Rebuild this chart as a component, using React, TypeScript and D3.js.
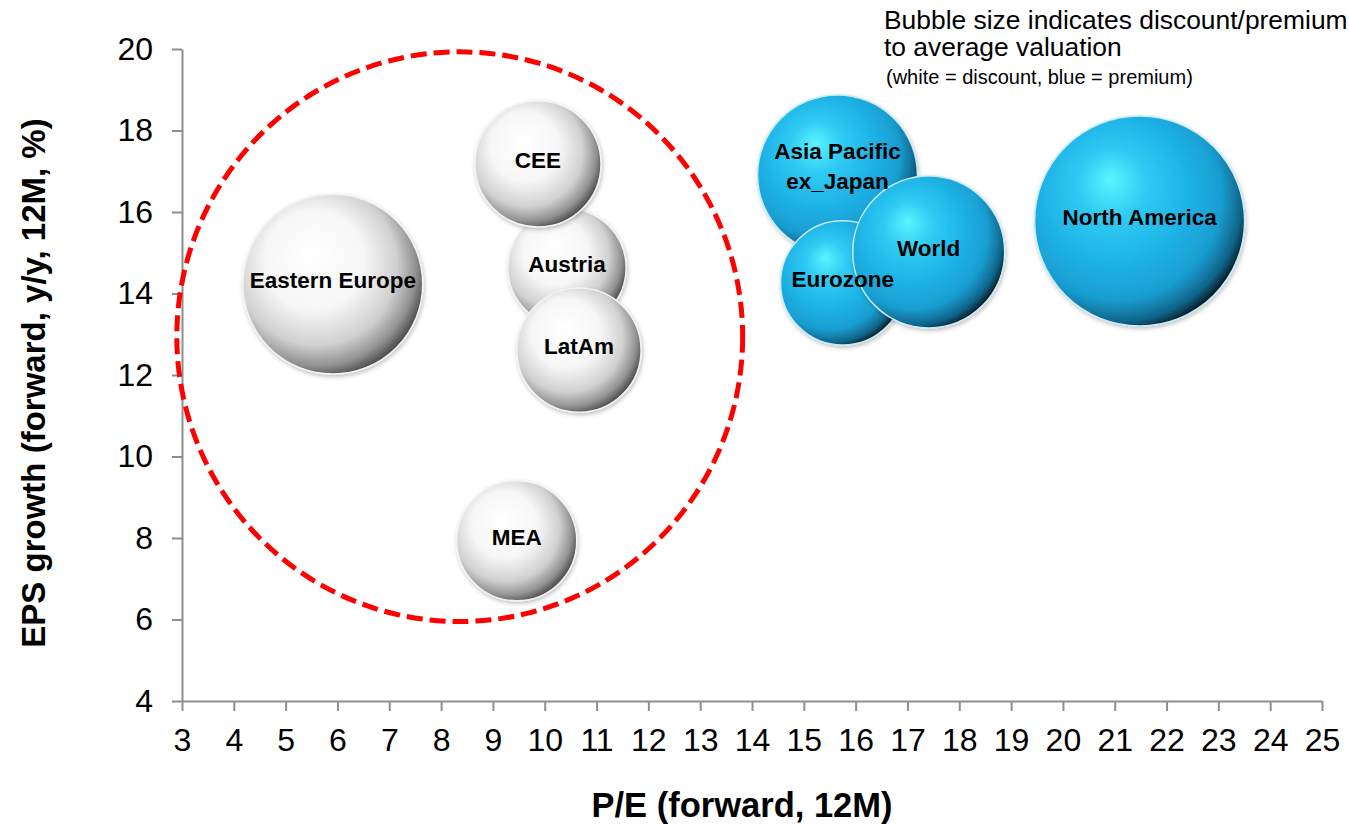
import { useEffect, useRef } from 'react'
import * as d3 from 'd3'

// regions, forward P/E, forward EPS growth, discount(-)/premium(+) to average valuation
const regions = ['Austria', 'CEE', 'LatAm', 'Eastern Europe', 'MEA', 'Asia Pacific|ex_Japan', 'Eurozone', 'World', 'North America']
const pe = [10.43, 9.87, 10.66, 5.91, 9.46, 15.65, 15.75, 17.41, 21.48]
const epsGrowth = [14.63, 17.18, 12.61, 14.23, 7.93, 16.91, 14.26, 15.02, 15.78]
const valuation = [-9.5, -10.8, -10.5, -22.0, -9.8, 17.4, 10.5, 15.7, 30.0]

const xTicks = d3.range(3, 26, 1)
const yTicks = d3.range(4, 21, 2)

// hand-drawn highlight ring, in data units
const ringX = [2.9, 13.82]
const ringY = [5.95, 19.93]

const W = 1349, H = 834
const M = { top: 49, right: 27, bottom: 133, left: 182 }
const IW = W - M.left - M.right
const IH = H - M.top - M.bottom
const FONT = '"Liberation Sans", Arial, sans-serif'

export default function App() {
  const xAxisRef = useRef<SVGGElement>(null)
  const yAxisRef = useRef<SVGGElement>(null)

  const x = d3.scaleLinear().domain([3, 25]).range([0, IW])
  const y = d3.scaleLinear().domain([4, 20]).range([IH, 0])
  const r = d3.scaleSqrt().domain([0, 30]).range([0, 105])

  useEffect(() => {
    const gx = d3.select(xAxisRef.current!)
    gx.selectAll('*').remove()
    gx.call(d3.axisBottom(x).tickValues(xTicks).tickSize(10).tickSizeOuter(0).tickPadding(17).tickFormat(d3.format('d')))
    gx.selectAll('path, line').attr('stroke', '#8e8e8e').attr('stroke-width', 2)
    gx.selectAll('text').attr('font-size', 32).attr('font-family', FONT).attr('fill', '#000')

    const gy = d3.select(yAxisRef.current!)
    gy.selectAll('*').remove()
    gy.call(d3.axisLeft(y).tickValues(yTicks).tickSize(10).tickSizeOuter(0).tickPadding(19).tickFormat(d3.format('d')))
    gy.selectAll('path, line').attr('stroke', '#8e8e8e').attr('stroke-width', 2)
    gy.selectAll('text').attr('font-size', 32).attr('font-family', FONT).attr('fill', '#000')
  }, [])

  const bubbles = regions.map((name, i) => ({
    name,
    cx: x(pe[i]),
    cy: y(epsGrowth[i]),
    rad: r(Math.abs(valuation[i])),
    premium: valuation[i] > 0,
  }))

  const ringCx = (x(ringX[0]) + x(ringX[1])) / 2
  const ringCy = (y(ringY[0]) + y(ringY[1])) / 2
  const ringRx = (x(ringX[1]) - x(ringX[0])) / 2
  const ringRy = (y(ringY[0]) - y(ringY[1])) / 2

  return (
    <svg width={W} height={H} style={{ position: 'absolute', left: 0, top: 0, background: '#fff' }} fontFamily={FONT}>
      <defs>
        <radialGradient id="gWhite" cx="42%" cy="42%" r="62%" fx="38%" fy="32%">
          <stop offset="0%" stopColor="#ffffff" />
          <stop offset="45%" stopColor="#f6f6f6" />
          <stop offset="72%" stopColor="#d0d0d0" />
          <stop offset="88%" stopColor="#929292" />
          <stop offset="100%" stopColor="#404040" />
        </radialGradient>
        <radialGradient id="gBlue" cx="40%" cy="40%" r="64%" fx="36%" fy="30%">
          <stop offset="0%" stopColor="#5cf4ff" />
          <stop offset="25%" stopColor="#2fcbf3" />
          <stop offset="55%" stopColor="#1eb2e6" />
          <stop offset="78%" stopColor="#199dd0" />
          <stop offset="92%" stopColor="#0f648a" />
          <stop offset="100%" stopColor="#031820" />
        </radialGradient>
        <filter id="shadow" x="-20%" y="-20%" width="140%" height="140%">
          <feDropShadow dx="1" dy="2" stdDeviation="2" floodColor="#000" floodOpacity="0.25" />
        </filter>
      </defs>

      <g transform={`translate(${M.left},${M.top})`}>
        <g ref={yAxisRef} />
        <g ref={xAxisRef} transform={`translate(0,${IH})`} />

        {bubbles.map((b) => (
          <circle key={b.name} cx={b.cx} cy={b.cy} r={b.rad}
            fill={b.premium ? 'url(#gBlue)' : 'url(#gWhite)'}
            stroke={b.premium ? '#c4ecf8' : '#f2f2f2'} strokeWidth={1.5}
            filter="url(#shadow)" />
        ))}

        <ellipse cx={ringCx} cy={ringCy} rx={ringRx} ry={ringRy}
          fill="none" stroke="#ff0000" strokeWidth={5} strokeDasharray="16 7" />

        {bubbles.map((b) => {
          const lines = b.name.split('|')
          return (
            <text key={b.name + '-l'} x={b.cx} y={b.cy - 4} textAnchor="middle"
              fontSize={22.5} fontWeight="bold" fill="#000">
              {lines.map((t, j) => (
                <tspan key={t} x={b.cx} dy={j === 0 ? `${0.35 - 0.9 * (lines.length - 1)}em` : '1.35em'}>{t}</tspan>
              ))}
            </text>
          )
        })}

        <text transform={`translate(${-137},${IH / 2 + 8}) rotate(-90)`} textAnchor="middle"
          fontSize={33} fontWeight="bold" fill="#000">EPS growth (forward, y/y, 12M, %)</text>
        <text x={IW / 2 - 10} y={IH + 116} textAnchor="middle"
          fontSize={34.5} fontWeight="bold" fill="#000">P/E (forward, 12M)</text>
      </g>

      <text x={884} y={29} fontSize={26.4} fill="#000">Bubble size indicates discount/premium</text>
      <text x={884} y={56} fontSize={26.4} fill="#000">to average valuation</text>
      <text x={886} y={84} fontSize={20} fill="#000">(white = discount, blue = premium)</text>
    </svg>
  )
}
